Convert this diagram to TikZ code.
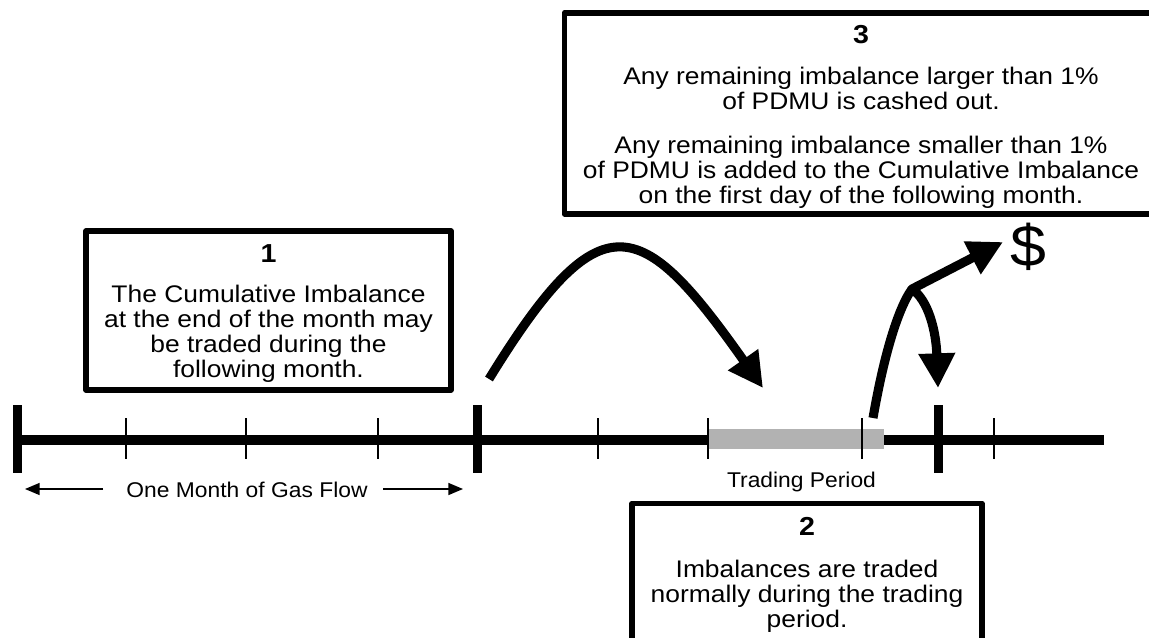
\documentclass[tikz,border=0pt]{standalone}
\usepackage{fontspec}
\setmainfont{Liberation Sans}
\usepackage{graphicx}
\usetikzlibrary{arrows.meta}
\newcommand\sx[1]{\scalebox{1.1}[1]{#1}}
\newcommand\lx[1]{\scalebox{1.07}[1]{#1}}
\begin{document}
\begin{tikzpicture}[x=0.75pt,y=-0.75pt,
  boxst/.style={draw, line width=4.2pt, line join=round, inner sep=0pt, outer sep=0pt},
  body/.style={anchor=base, inner sep=0pt, font=\fontsize{18}{18.75}\selectfont},
  head/.style={anchor=base, inner sep=0pt, font=\fontsize{19.5}{20}\selectfont\bfseries},
  lbl/.style={anchor=base, inner sep=0pt, font=\fontsize{16}{18}\selectfont},
  bigarrow/.style={line width=6.8pt, line join=round, -{Triangle[length=26pt,width=26pt]}},
  thinarrow/.style={line width=1.1pt, -{Triangle[length=11pt,width=9pt]}},
  mainline/.style={line width=7.5pt},
  bigtick/.style={line width=6.75pt},
  smalltick/.style={line width=1.5pt},
  tradebar/.style={fill=black!30, draw=none, inner sep=0pt, outer sep=0pt}
]
\useasboundingbox (0,0) rectangle (1149,638);
\clip (0,0) rectangle (1149,638);

% ---------- boxes ----------
\node[boxst, minimum width=273.75pt, minimum height=119.25pt] (box1) at (268.5,310.5) {};
\node[boxst, minimum width=445.1pt, minimum height=150.9pt] (box3) at (861.25,113.4) {};
\node[boxst, minimum width=262.5pt, minimum height=147.4pt] (box2) at (807,601.75) {};

% box 1 text
\node[head] (h1) at (268.5,262) {\sx{1}};
\node[body] (b1a) at (268.5,302.5) {\sx{The Cumulative Imbalance}};
\node[body] (b1b) at (268.5,327.5) {\sx{at the end of the month may}};
\node[body] (b1c) at (268.5,352.5) {\sx{be traded during the}};
\node[body] (b1d) at (268.5,377.5) {\sx{following month.}};

% box 3 text
\node[head] (h3) at (861,43.5) {\sx{3}};
\node[body] (b3a) at (861,85) {\sx{Any remaining imbalance larger than 1\%}};
\node[body] (b3b) at (861,110) {\sx{of PDMU is cashed out.}};
\node[body] (b3c) at (861,154) {\sx{Any remaining imbalance smaller than 1\%}};
\node[body] (b3d) at (861,179) {\sx{of PDMU is added to the Cumulative Imbalance}};
\node[body] (b3e) at (861,204) {\sx{on the first day of the following month.}};

% box 2 text
\node[head] (h2) at (807,535.5) {\sx{2}};
\node[body] (b2a) at (807,577) {\sx{Imbalances are traded}};
\node[body] (b2b) at (807,602) {\sx{normally during the trading}};
\node[body] (b2c) at (807,627) {\sx{period.}};

% ---------- timeline ----------
\coordinate (tl0) at (17,440);
\coordinate (tl1) at (1104,440);
\draw[mainline] (tl0) -- (tl1);
\node[tradebar, minimum width=132pt, minimum height=15pt] (tp) at (796,439) {};
\foreach \x in {17,477,938} \draw[bigtick] (\x,405) -- (\x,473);
\foreach \x in {126,246,378,598,708,862,994} \draw[smalltick] (\x,418) -- (\x,459);

\node[lbl] (tplbl) at (801.5,487) {\lx{Trading Period}};
\node[lbl] (om) at (247,497) {\lx{One Month of Gas Flow}};
\coordinate (omLs) at (103,489);
\coordinate (omLe) at (25,489);
\coordinate (omRs) at (383,489);
\coordinate (omRe) at (463,489);
\draw[thinarrow] (omLs) -- (omLe);
\draw[thinarrow] (omRs) -- (omRe);

% ---------- big curved arrow ----------
\coordinate (c1s) at (489,379);
\coordinate (c1e) at (763,388);
\draw[bigarrow] (c1s) .. controls (600.6,197.5) and (640.3,214) .. (c1e);

% ---------- cash-out arrows ----------
\node[anchor=base, inner sep=0pt, font=\fontsize{44}{48}\selectfont] (dollar) at (1028,266) {\sx{\$}};
\coordinate (c2s) at (873,418);
\coordinate (c2b) at (912,289);
\coordinate (c2d) at (1003,242);
\coordinate (c2t) at (938,388);
\draw[bigarrow] (c2s) .. controls (883,360) and (897,310) .. (c2b) -- (c2d);
\draw[bigarrow] (c2b) .. controls (928,300) and (936,330) .. (c2t);
\end{tikzpicture}
\end{document}
